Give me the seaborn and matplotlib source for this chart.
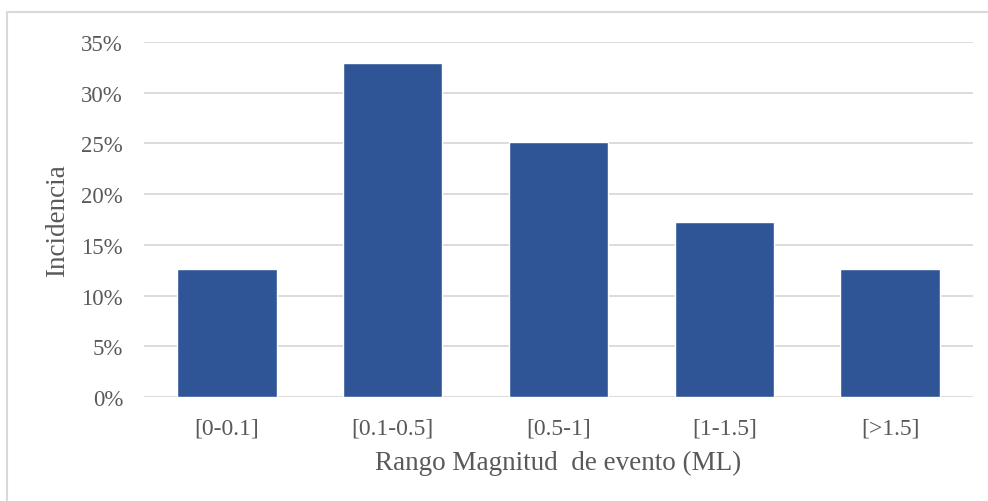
import pandas as pd
import seaborn as sns
import matplotlib.pyplot as plt
from matplotlib.patches import Rectangle
from matplotlib.ticker import PercentFormatter

rangos = ['[0-0.1]', '[0.1-0.5]', '[0.5-1]', '[1-1.5]', '[>1.5]']
incidencia = [0.126, 0.329, 0.251, 0.173, 0.126]

df = pd.DataFrame({'rango': rangos, 'incidencia': incidencia})

sns.set_style('white')
plt.rcParams['font.family'] = ['Liberation Serif', 'DejaVu Serif']

fig = plt.figure(figsize=(9.88, 5.02), dpi=100)
ax = fig.add_axes([0.1457, 0.2072, 0.8391, 0.7071])

sns.barplot(data=df, x='rango', y='incidencia', color='#2F5597', saturation=1,
            width=0.6, ax=ax, zorder=3)

ax.set_ylim(0, 0.35)
ax.set_yticks([0, 0.05, 0.10, 0.15, 0.20, 0.25, 0.30, 0.35])
ax.yaxis.set_major_formatter(PercentFormatter(1.0, decimals=0))
ax.grid(axis='y', color='#D9D9D9', linewidth=1.3, zorder=0)
ax.set_axisbelow(True)
for s in ax.spines.values():
    s.set_visible(False)
ax.tick_params(axis='both', length=0, labelcolor='#595959')
ax.tick_params(axis='y', pad=15, labelsize=16.5)
ax.tick_params(axis='x', pad=15, labelsize=17)
ax.set_xlabel('Rango Magnitud  de evento (ML)', fontsize=19.5, color='#595959', labelpad=8)
ax.set_ylabel('Incidencia', fontsize=19.5, color='#595959', labelpad=8)

# marco gris alrededor de la figura
fig.patches.append(Rectangle((0.007, -0.05), 1.1, 0.05 + 0.974, transform=fig.transFigure,
                             fill=False, edgecolor='#D9D9D9', linewidth=1.5))

fig.savefig('out.png', dpi=100)
